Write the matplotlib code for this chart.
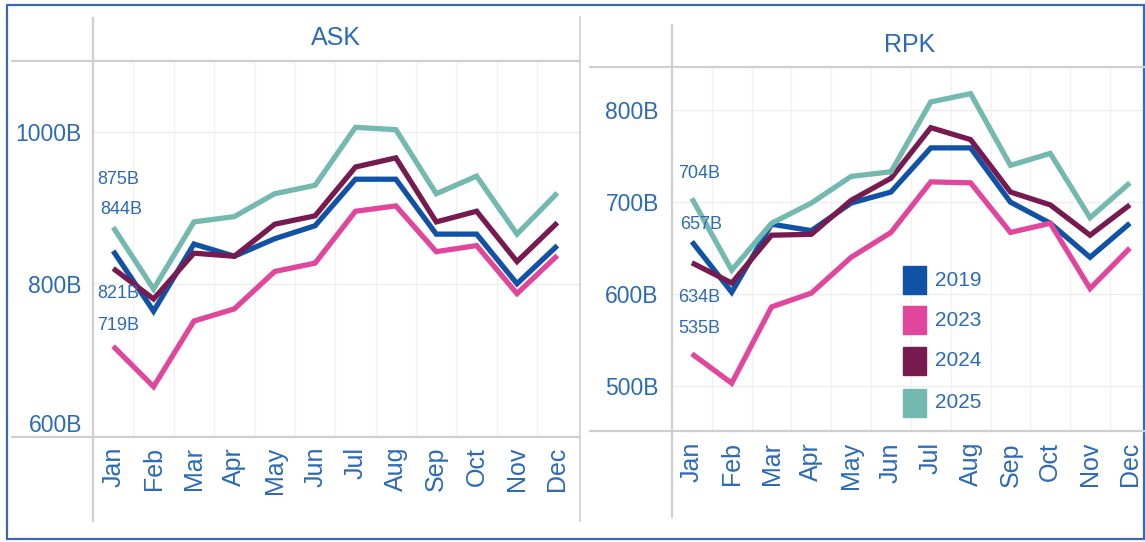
import matplotlib
matplotlib.use("Agg")
import matplotlib.pyplot as plt
from matplotlib.lines import Line2D
from matplotlib.patches import Rectangle

months = ["Jan", "Feb", "Mar", "Apr", "May", "Jun", "Jul", "Aug", "Sep", "Oct", "Nov", "Dec"]
years = ["2019", "2023", "2024", "2025"]

ask_2019 = [844, 765, 853, 837, 860, 877, 938, 938, 866, 866, 801, 851]
ask_2023 = [719, 666, 752, 768, 817, 828, 896, 903, 843, 851, 788, 838]
ask_2024 = [821, 781, 841, 837, 879, 890, 954, 966, 882, 896, 830, 881]
ask_2025 = [875, 794, 882, 889, 919, 930, 1006, 1003, 919, 942, 866, 920]

rpk_2019 = [657, 602, 676, 669, 699, 711, 759, 759, 700, 677, 640, 677]
rpk_2023 = [535, 503, 586, 601, 640, 667, 722, 721, 667, 677, 606, 650]
rpk_2024 = [634, 612, 664, 665, 702, 726, 781, 768, 711, 697, 664, 697]
rpk_2025 = [704, 626, 677, 699, 728, 733, 809, 818, 740, 753, 683, 721]

ask_ticks = [600, 800, 1000]
rpk_ticks = [500, 600, 700, 800]

colors = ["#1052a5", "#e0479c", "#771a50", "#74b9af"]
text_color = "#2c6ab4"
grey = "#cfcfcf"

W, H = 1145, 542
fig = plt.figure(figsize=(W / 100, H / 100), dpi=100)
FAM = ["Liberation Sans", "DejaVu Sans"]


def fx(px):
    return px / W


def fy(py):
    return 1 - py / H


def panel(rect, xlim, ylim, series, ticks, title, title_xy, label_offsets, tick_pad, month_pad):
    l, t, r, b = rect
    ax = fig.add_axes([fx(l), fy(b), fx(r) - fx(l), fy(t) - fy(b)])
    ax.set_xlim(*xlim)
    ax.set_ylim(*ylim)
    for s in ax.spines.values():
        s.set_visible(False)
    x = list(range(len(months)))
    for yv in ticks:
        ax.axhline(yv, color="#ededed", lw=1, zorder=0)
    for i in range(len(months) - 1):
        ax.axvline(i + 0.5, color="#f1f1f1", lw=1, zorder=0)
    for vals, c in zip(series, colors):
        ax.plot(x, vals, color=c, lw=3.8, solid_joinstyle="miter", solid_capstyle="butt", zorder=3)
    for vals, off in zip(series, label_offsets):
        ax.annotate(f"{vals[0]}B", (0, vals[0]), xytext=off, textcoords="offset pixels",
                    ha="left", va="center", fontsize=13, color=text_color, family=FAM, zorder=5)
    ax.set_yticks(ticks)
    ax.set_yticklabels([f"{v}B" for v in ticks], color=text_color, fontsize=16.5, family=FAM)
    ax.tick_params(axis="y", length=0, pad=tick_pad)
    ax.set_xticks(x)
    ax.set_xticklabels(months, rotation=90, va="top", ha="center", color=text_color,
                       fontsize=18, family=FAM)
    ax.tick_params(axis="x", length=0, pad=month_pad)
    fig.text(fx(title_xy[0]), fy(title_xy[1]), title, ha="center", va="center",
             fontsize=18, color=text_color, family=FAM)
    return ax


ax1 = panel((93, 61, 580, 437), (-0.5, 11.56), (600, 1093),
            [ask_2019, ask_2023, ask_2024, ask_2025], ask_ticks, "ASK", (336, 38),
            [(-13, 41), (-16, 21), (-16, -25), (-16, 48)], 8, 7)
# bottom tick label sits above the axis line
ylabels = ax1.get_yticklabels()
ylabels[0].set_va("bottom")

ax2 = panel((672, 67, 1145, 431), (-0.5, 11.38), (451, 847),
            [rpk_2019, rpk_2023, rpk_2024, rpk_2025], rpk_ticks, "RPK", (910, 45),
            [(-12, 17), (-14, 25), (-14, -35), (-14, 25)], 9.5, 8)

# legend
leg_y = [280, 320, 361, 403]
for yr, c, yc in zip(years, colors, leg_y):
    fig.patches.append(Rectangle((fx(903), fy(yc + 14)), fx(23), 28 / H, color=c,
                                 transform=fig.transFigure, figure=fig, zorder=6))
    fig.text(fx(935), fy(yc), yr, ha="left", va="center", fontsize=15, color=text_color,
             family=FAM, zorder=6)


def fline(x0, y0, x1, y1, color=grey, lw=1.6):
    fig.lines.append(Line2D([fx(x0), fx(x1)], [fy(y0), fy(y1)], transform=fig.transFigure,
                            color=color, lw=lw, figure=fig))


# structural lines
fline(12, 61, 580, 61)
fline(12, 437, 580, 437)
fline(93, 18, 93, 521)
fline(580, 17, 580, 521, lw=1.2)
fline(590, 67, 1145, 67)
fline(590, 431, 1145, 431)
fline(672, 25, 672, 517)

# outer border
fig.patches.append(Rectangle((fx(7), fy(539)), fx(1137), (539 - 5) / H, fill=False,
                             edgecolor="#3f66b0", lw=1.6, transform=fig.transFigure, figure=fig))

fig.savefig("out.png", dpi=100)
